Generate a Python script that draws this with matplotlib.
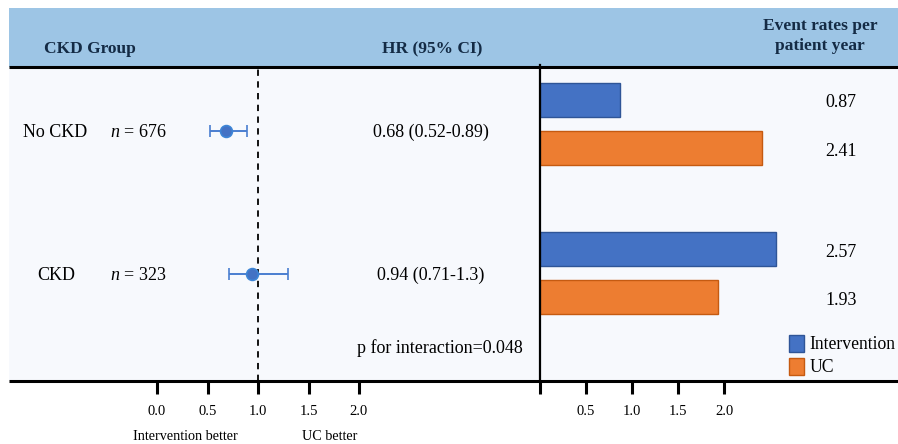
import matplotlib
matplotlib.use("Agg")
import matplotlib.pyplot as plt
from matplotlib.patches import Rectangle

plt.rcParams['font.family'] = ['Liberation Serif', 'DejaVu Serif']
plt.rcParams['mathtext.fontset'] = 'custom'
plt.rcParams['mathtext.rm'] = 'Liberation Serif'
plt.rcParams['mathtext.it'] = 'Liberation Serif:italic'

# ---------------- data ----------------
groups = ["No CKD", "CKD"]
n_values = [676, 323]
hr = [0.68, 0.94]
ci_low = [0.52, 0.71]
ci_high = [0.89, 1.3]
hr_labels = ["0.68 (0.52-0.89)", "0.94 (0.71-1.3)"]
p_interaction = "p for interaction=0.048"
rate_intervention = [0.87, 2.57]
rate_uc = [2.41, 1.93]
series_names = ["Intervention", "UC"]
forest_ticks = [0.0, 0.5, 1.0, 1.5, 2.0]
bar_ticks = [0.5, 1.0, 1.5, 2.0]

# ---------------- styling ----------------
W, H = 898, 444
DPI = 100
blue = "#4472C4"
blue_edge = "#2F5597"
orange = "#ED7D31"
orange_edge = "#C55A11"
header_bg = "#9DC5E5"
body_bg = "#F7F9FD"
navy = "#142B45"
FS = 13

fig = plt.figure(figsize=(W / DPI, H / DPI), dpi=DPI)

# background axes in pixel coordinates for layout elements
bg = fig.add_axes([0, 0, 1, 1])
bg.set_xlim(0, W)
bg.set_ylim(H, 0)
bg.axis("off")

top_y, bot_y = 67, 381
bg.add_patch(Rectangle((9, 8), W - 9, top_y - 8, facecolor=header_bg, edgecolor="none"))
bg.add_patch(Rectangle((9, top_y), W - 9, bot_y - top_y, facecolor=body_bg, edgecolor="none"))
bg.plot([9, W], [top_y, top_y], color="black", lw=2.2, solid_capstyle="butt")
bg.plot([9, W], [bot_y, bot_y], color="black", lw=2.2, solid_capstyle="butt")

bg.text(90, 49, "CKD Group", ha="center", va="center", fontsize=12.5, fontweight="bold", color=navy)
bg.text(432, 49, "HR (95% CI)", ha="center", va="center", fontsize=12.5, fontweight="bold", color=navy)
bg.text(820, 36, "Event rates per\npatient year", ha="center", va="center", fontsize=12.5,
        fontweight="bold", color=navy, linespacing=1.3)

row_px = [132, 275]
for i, g in enumerate(groups):
    xg = 23 if i == 0 else 37
    bg.text(xg, row_px[i], g, ha="left", va="center", fontsize=FS)
    bg.text(110, row_px[i], r"$\mathit{n}$ = " + str(n_values[i]), ha="left", va="center", fontsize=FS)
    bg.text(431, row_px[i], hr_labels[i], ha="center", va="center", fontsize=FS)
bg.text(440, 348, p_interaction, ha="center", va="center", fontsize=FS)
bg.text(185, 436, "Intervention better", ha="center", va="center", fontsize=10.2)
bg.text(330, 436, "UC better", ha="center", va="center", fontsize=10.2)

# row coordinates: row index 0 -> y=131 px, 1 -> y=274 px
row_h = 143.0
y_top = (top_y - 131) / row_h
y_bot = (bot_y - 131) / row_h

def fx(px):
    return px / W

def fy(py):
    return 1 - py / H

# ---------------- forest axes ----------------
fl, fr = 9, 540
ax = fig.add_axes([fx(fl), fy(bot_y), fx(fr - fl), (bot_y - top_y) / H])
ax.patch.set_visible(False)
ppu = 101.0
x0_px = 157
ax.set_xlim((fl - x0_px) / ppu, (fr - x0_px) / ppu)
ax.set_ylim(y_bot, y_top)
rows = list(range(len(groups)))
ax.errorbar(hr, rows,
            xerr=[[h - l for h, l in zip(hr, ci_low)], [u - h for h, u in zip(hr, ci_high)]],
            fmt="o", color=blue, ecolor="#4A7ED0", elinewidth=1.4, capsize=4, capthick=1.6,
            markersize=8.5, markerfacecolor=blue, markeredgecolor="#3D85D6", markeredgewidth=1.2, zorder=3)
ax.axvline(1.0, color="black", lw=1.3, ls=(0, (3.5, 3)), zorder=1)
for s in ax.spines.values():
    s.set_visible(False)
ax.set_yticks([])
ax.set_xticks(forest_ticks)
ax.set_xticklabels([f"{t:.1f}" for t in forest_ticks])
ax.tick_params(axis="x", direction="out", length=9, width=2.2, pad=8, labelsize=10.5)

# ---------------- bar axes ----------------
bl, br = 540, W
bx = fig.add_axes([fx(bl), fy(bot_y), fx(br - bl), (bot_y - top_y) / H])
bx.patch.set_visible(False)
bppu = 92.0
bx.set_xlim(0, (br - bl) / bppu)
bx.set_ylim(y_bot, y_top)
bar_h = 0.238
bar_center = [-0.05, -0.007]
off = 0.168
pos_int = [r + c - off for r, c in zip(rows, bar_center)]
pos_uc = [r + c + off for r, c in zip(rows, bar_center)]
bx.barh(pos_int, rate_intervention, height=bar_h, color=blue,
        edgecolor=blue_edge, lw=1.0, label=series_names[0])
bx.barh(pos_uc, rate_uc, height=bar_h, color=orange,
        edgecolor=orange_edge, lw=1.0, label=series_names[1])
txt_shift = 0.022
for r in rows:
    bx.text(0.84, pos_int[r] + txt_shift, f"{rate_intervention[r]:.2f}", transform=bx.get_yaxis_transform(),
            ha="center", va="center", fontsize=FS)
    bx.text(0.84, pos_uc[r] + txt_shift, f"{rate_uc[r]:.2f}", transform=bx.get_yaxis_transform(),
            ha="center", va="center", fontsize=FS)
for k in ["top", "right", "bottom"]:
    bx.spines[k].set_visible(False)
bx.spines["left"].set_linewidth(1.6)
bx.spines["left"].set_bounds(y_bot, (65 - 131) / row_h)
bx.set_yticks([])
bx.set_xticks([0] + bar_ticks)
bx.set_xticklabels([""] + [f"{t:.1f}" for t in bar_ticks])
bx.tick_params(axis="x", direction="out", length=9, width=2.2, pad=8, labelsize=10.5)
leg = bx.legend(loc="lower left", bbox_to_anchor=((789 - bl) / (br - bl), 4.5 / (bot_y - top_y)),
                frameon=False, fontsize=12.7, handlelength=0.83, handleheight=1.1, handletextpad=0.33,
                labelspacing=0.28, borderaxespad=0.0, borderpad=0.0)

fig.savefig("out.png", dpi=DPI)
